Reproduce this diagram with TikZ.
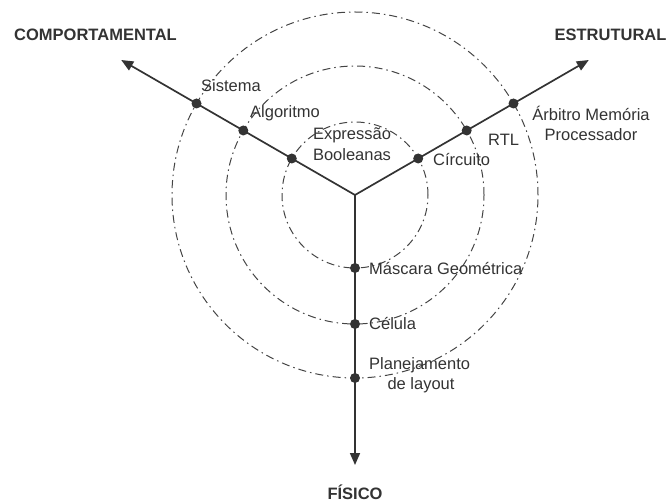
\documentclass[tikz,border=0pt]{standalone}
\usepackage{fontspec}
\setmainfont{Liberation Sans}
\usetikzlibrary{arrows.meta}
\definecolor{ink}{HTML}{333333}
\definecolor{ringink}{HTML}{444444}
\begin{document}
\begin{tikzpicture}[x=1pt,y=-1pt,
  arm/.style={draw=ink,line width=1.7pt,-{Triangle[length=12pt,width=10pt]}},
  ring/.style={draw=ringink,line width=1pt,dash pattern=on 8pt off 4pt on 1.5pt off 4pt},
  lvl/.style={circle,fill=ink,inner sep=0pt,minimum size=10pt},
  lbl/.style={text=ink,font=\fontsize{16.5}{20}\selectfont,inner sep=0pt},
  axislbl/.style={text=ink,font=\bfseries\fontsize{16.5}{20}\selectfont,inner sep=0pt}]
\useasboundingbox (0,0) rectangle (669,502);

% centre of the Y chart and the three axis ends
\coordinate (O) at (355,195);
\coordinate (tipB) at (121.2,60);
\coordinate (tipS) at (588.8,60);
\coordinate (tipF) at (355,465);

% abstraction levels
\draw[ring] (O) circle[radius=73pt];
\draw[ring] (O) circle[radius=129pt];
\draw[ring] (O) circle[radius=183pt];

% axes
\draw[arm] (O) -- (tipB);
\draw[arm] (O) -- (tipS);
\draw[arm] (O) -- (tipF);

% level markers on the behavioural axis
\node[lvl] (b1) at (291.8,158.5) {};
\node[lvl] (b2) at (243.3,130.5) {};
\node[lvl] (b3) at (196.5,103.5) {};
% structural axis
\node[lvl] (s1) at (418.2,158.5) {};
\node[lvl] (s2) at (466.7,130.5) {};
\node[lvl] (s3) at (513.5,103.5) {};
% physical axis
\node[lvl] (f1) at (355,268) {};
\node[lvl] (f2) at (355,324) {};
\node[lvl] (f3) at (355,378) {};

% axis titles
\node[axislbl,anchor=base] (tB) at (95.5,41) {COMPORTAMENTAL};
\node[axislbl,anchor=base] (tS) at (610.5,41) {ESTRUTURAL};
\node[axislbl,anchor=base] (tF) at (355,499) {FÍSICO};

% behavioural labels
\node[lbl,anchor=base west] (lb3) at (201,92) {Sistema};
\node[lbl,anchor=base west] (lb2) at (250,118) {Algoritmo};
\node[lbl,anchor=base] (lb1a) at (352,140) {Expressão};
\node[lbl,anchor=base] (lb1b) at (352,161) {Booleanas};

% structural labels
\node[lbl,anchor=base west] (ls1) at (433,166) {Círcuito};
\node[lbl,anchor=base west] (ls2) at (488,146) {RTL};
\node[lbl,anchor=base] (ls3a) at (591,121) {Árbitro Memória};
\node[lbl,anchor=base] (ls3b) at (591,141) {Processador};

% physical labels
\node[lbl,anchor=base west] (lf1) at (369,275) {Máscara Geométrica};
\node[lbl,anchor=base west] (lf2) at (369,330) {Célula};
\node[lbl,anchor=base west] (lf3a) at (369,370) {Planejamento};
\node[lbl,anchor=base] (lf3b) at (421,389) {de layout};
\end{tikzpicture}
\end{document}
